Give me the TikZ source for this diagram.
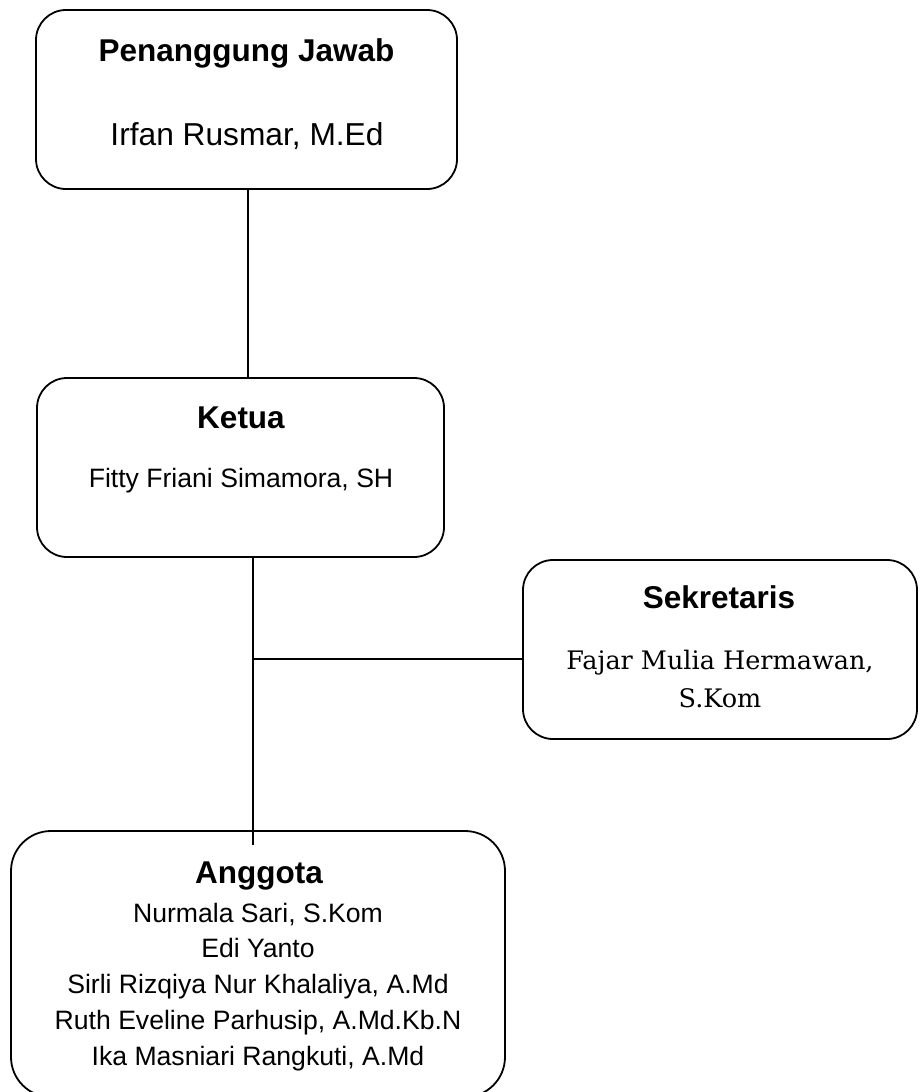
\documentclass[tikz,border=0pt]{standalone}
\usepackage{fontspec}
\setmainfont{Liberation Sans}
\newfontfamily\serifbuku{DejaVu Serif}
\usetikzlibrary{calc, positioning}
\definecolor{garis}{HTML}{000000}
\definecolor{tinta}{HTML}{000000}

\begin{document}
\begin{tikzpicture}[x=1pt, y=-1pt,
                    kotak/.style={draw = garis, line width=1.8pt, rounded corners=30pt, inner sep=0pt, outer sep=0pt, minimum height=179pt},
                    judul/.style={anchor=base, text = tinta, font=\fontsize{31.5}{36}\selectfont\bfseries},
                    nama/.style={anchor=base, text = tinta, font=\fontsize{26.6}{32}\selectfont},
                    penghubung/.style={draw = garis, line width=1.8pt}
                ]
                \useasboundingbox (0,0) rectangle (923,1092);
                \node[kotak, minimum width=421pt] (pj) at (246.5,99.5) {};
                \node[kotak, minimum width=407pt] (ketua) at (240.5,467.5) {};
                \node[kotak, minimum width=394pt] (sekr) at (720,649.5) {};
                \node[kotak, minimum width=494pt, minimum height=266pt, rounded corners=40pt] (anggota) at (258,964) {};

                \node[judul] (pjJudul) at (246.5,61) {Penanggung Jawab};
                \node[nama, font=\fontsize{31.7}{36}\selectfont] (pjNama) at (247,145) {Irfan Rusmar, M.Ed};

                \node[judul] (ketuaJudul) at (241,428) {Ketua};
                \node[nama] (ketuaNama) at (241,487) {Fitty Friani Simamora, SH};

                \node[judul] (sekrJudul) at (719,608) {Sekretaris};
                \node[nama, font=\serifbuku\fontsize{25.5}{30}\selectfont] (sekrNama) at (720,669) {Fajar Mulia Hermawan,};
                \node[nama, font=\serifbuku\fontsize{25.5}{30}\selectfont] (sekrGelar) at (720,707) {S.Kom};

                \node[judul] (anggotaJudul) at (259,883) {Anggota};
                \node[nama] (a1) at (258,922) {Nurmala Sari, S.Kom};
                \node[nama] (a2) at (258,957.5) {Edi Yanto};
                \node[nama] (a3) at (258,993) {Sirli Rizqiya Nur Khalaliya, A.Md};
                \node[nama] (a4) at (258,1029) {Ruth Eveline Parhusip, A.Md.Kb.N};
                \node[nama] (a5) at (258,1065) {Ika Masniari Rangkuti, A.Md};

                \coordinate (cabang) at (253,659);
                \draw[penghubung] ([xshift=1.5pt]pj.south) -- ([xshift=1.5pt]pj.south |- ketua.north);
                \draw[penghubung] (cabang |- ketua.south) -- ([yshift=-14pt]cabang |- anggota.north);
                \draw[penghubung] (cabang) -- (cabang -| sekr.west);
            \end{tikzpicture}
\end{document}
